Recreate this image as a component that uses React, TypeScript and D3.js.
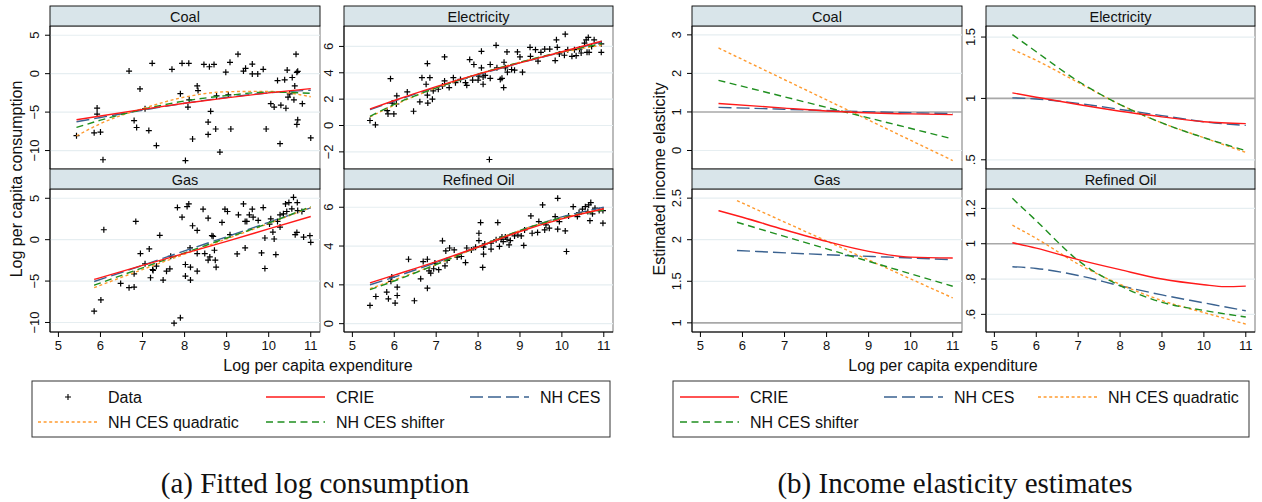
import * as d3 from "d3";

type Pt = [number, number];

// observed log per capita consumption vs log per capita expenditure
const coalObs: Pt[] = [
  [5.43, -8.06], [5.92, -4.48], [5.92, -5.26], [5.85, -7.7], [6.0, -7.6], [6.06, -11.2],
  [6.68, 0.34], [6.94, -1.98], [6.8, -6.1], [6.86, -7.0], [7.06, -4.57], [7.15, -7.4],
  [7.23, 1.34], [7.33, -9.35], [7.7, 0.56], [7.9, -2.6], [7.94, 1.34], [8.1, 1.34],
  [8.08, -4.35], [8.11, -3.4], [8.3, -1.6], [8.32, -2.2], [8.19, -8.5], [8.02, -11.3],
  [8.46, 1.2], [8.59, 0.9], [8.7, 1.2], [8.56, -6.3], [8.56, -7.9], [8.62, -4.9],
  [8.74, -7.2], [8.76, -2.9], [8.84, -10.2], [8.98, 0.2], [9.08, 1.47], [9.04, -2.76],
  [9.1, -7.2], [9.27, 2.54], [9.4, 0.34], [9.45, 0.69], [9.61, 1.25], [9.61, -0.04],
  [9.74, -0.04], [9.87, 0.56], [9.94, -7.2], [10.05, -3.9], [10.13, -4.35], [10.21, -0.9],
  [10.27, -9.1], [10.29, -4.1], [10.38, -0.8], [10.41, -4.5], [10.44, 0.47], [10.46, -3.06],
  [10.5, -2.63], [10.56, -0.5], [10.6, -3.4], [10.62, -1.6], [10.65, 2.54], [10.67, 0.17],
  [10.69, 0.3], [10.67, -6.6], [10.69, -6.0], [10.8, -3.9], [11.0, -8.36],
];

const electricityObs: Pt[] = [
  [5.42, 0.38], [5.55, 0.05], [5.91, 3.55], [5.83, 1.13], [5.85, 0.88], [5.99, 0.88],
  [5.95, 1.7], [6.05, 1.63], [6.06, 2.25], [6.31, 2.55], [6.46, 1.08], [6.61, 1.8],
  [6.66, 3.63], [6.76, 3.13], [6.79, 4.7], [6.79, 2.3], [6.8, 1.7], [6.85, 3.63],
  [6.91, 2.0], [6.93, 2.63], [7.05, 2.75], [7.15, 3.0], [7.2, 5.2], [7.2, 3.38],
  [7.31, 2.88], [7.41, 3.63], [7.46, 3.25], [7.58, 3.5], [7.7, 3.25], [7.73, 3.05],
  [7.8, 5.0], [7.9, 4.63], [7.87, 3.45], [8.0, 3.45], [8.02, 3.75], [8.08, 5.63],
  [8.08, 4.38], [8.12, 3.68], [8.12, 3.13], [8.17, 3.8], [8.29, 4.63], [8.29, 3.58],
  [8.27, -2.58], [8.43, 6.08], [8.45, 4.38], [8.53, 3.5], [8.57, 3.58], [8.61, 2.88],
  [8.62, 4.8], [8.65, 4.38], [8.69, 5.58], [8.7, 4.05], [8.8, 4.25], [8.87, 4.2],
  [8.94, 5.58], [9.0, 5.2], [9.06, 4.05], [9.24, 5.93], [9.25, 5.25], [9.37, 5.75],
  [9.43, 4.88], [9.5, 5.55], [9.59, 5.8], [9.71, 5.8], [9.84, 4.93], [9.87, 6.5],
  [9.89, 5.93], [9.94, 5.43], [10.08, 6.93], [10.06, 5.33], [10.14, 5.75], [10.24, 5.25],
  [10.34, 5.3], [10.42, 5.8], [10.46, 5.5], [10.54, 6.25], [10.58, 6.5], [10.63, 6.68],
  [10.65, 5.55], [10.71, 6.0], [10.77, 6.5], [10.94, 6.2], [10.94, 5.55], [10.6, 5.55],
  [10.3, 5.75],
];

const gasObs: Pt[] = [
  [5.85, -8.64], [6.01, -7.28], [6.08, 1.2], [6.48, -5.28], [6.68, -5.8], [6.8, -5.72],
  [6.8, -4.12], [6.84, 2.2], [6.95, -1.68], [7.06, -2.92], [7.16, -1.12], [7.19, -4.6],
  [7.24, -3.6], [7.25, -3.72], [7.33, -3.2], [7.41, 0.52], [7.49, -4.88], [7.57, -3.8],
  [7.65, -3.52], [7.67, -2.0], [7.75, -10.08], [7.83, 3.88], [7.9, -9.44], [7.94, 2.72],
  [8.02, -3.0], [8.02, -4.4], [8.06, 4.0], [8.1, 4.32], [8.13, -1.0], [8.14, -3.32],
  [8.14, -4.88], [8.19, 1.68], [8.3, 1.12], [8.3, -1.68], [8.3, -3.8], [8.44, 3.68],
  [8.48, -1.68], [8.56, 2.6], [8.56, -2.48], [8.6, -2.08], [8.65, 0.48], [8.68, 0.4],
  [8.71, -1.28], [8.73, -2.48], [8.75, -3.32], [8.89, 2.08], [8.96, 3.68], [9.02, 3.4],
  [9.08, 0.6], [9.25, -1.72], [9.28, 3.0], [9.4, 4.32], [9.44, 2.2], [9.44, -1.0],
  [9.48, 2.2], [9.54, 3.0], [9.61, 3.68], [9.63, 2.72], [9.75, 2.32], [9.83, -1.6],
  [9.87, 3.88], [9.91, 0.2], [9.91, -3.48], [10.02, 1.88], [10.05, 2.52], [10.1, 0.92],
  [10.13, 0.08], [10.17, -1.8], [10.21, 2.2], [10.27, 1.52], [10.27, 3.0], [10.35, 3.12],
  [10.4, 4.32], [10.43, 3.4], [10.48, 4.48], [10.55, 3.72], [10.59, 5.12], [10.63, 0.6],
  [10.67, 0.88], [10.68, 4.48], [10.69, 3.52], [10.79, 3.4], [10.83, 0.32], [10.98, 0.48],
  [11.0, -0.32],
];

const refinedOilObs: Pt[] = [
  [5.42, 0.94], [5.56, 1.4], [5.82, 1.63], [5.86, 1.28], [5.92, 2.18], [5.94, 2.4],
  [6.02, 1.06], [6.07, 1.45], [6.07, 1.88], [6.34, 3.32], [6.48, 1.18], [6.63, 2.31],
  [6.69, 3.2], [6.79, 3.32], [6.79, 1.83], [6.83, 2.72], [6.87, 2.6], [6.94, 2.83],
  [6.97, 3.12], [7.06, 2.78], [7.15, 4.27], [7.21, 2.98], [7.23, 3.75], [7.26, 3.26],
  [7.32, 3.9], [7.43, 3.8], [7.5, 3.43], [7.6, 3.46], [7.7, 3.15], [7.73, 3.9],
  [7.84, 3.8], [7.94, 3.94], [8.02, 4.28], [8.02, 4.66], [8.06, 5.21], [8.11, 2.9],
  [8.13, 3.58], [8.13, 3.94], [8.16, 4.11], [8.31, 4.15], [8.31, 3.84], [8.43, 4.32],
  [8.47, 5.21], [8.51, 3.98], [8.55, 4.35], [8.57, 4.46], [8.6, 4.23], [8.65, 4.46],
  [8.69, 4.35], [8.74, 4.06], [8.77, 4.28], [8.87, 4.52], [8.95, 4.57], [9.03, 4.52],
  [9.09, 4.03], [9.11, 4.83], [9.26, 5.55], [9.29, 4.66], [9.42, 4.7], [9.45, 5.26],
  [9.54, 6.12], [9.59, 4.83], [9.62, 5.09], [9.7, 4.92], [9.84, 5.52], [9.9, 6.46],
  [9.9, 4.87], [9.94, 5.26], [10.08, 4.78], [10.11, 3.72], [10.16, 5.55], [10.27, 6.03],
  [10.37, 5.52], [10.41, 5.73], [10.49, 5.9], [10.56, 6.03], [10.62, 5.78], [10.64, 6.12],
  [10.67, 5.31], [10.69, 6.24], [10.73, 5.66], [10.79, 5.95], [10.89, 5.83], [10.98, 5.83],
  [10.98, 5.18],
];

// fitted log consumption by model
const coalFit = {
  crie: [[5.43, -6.0], [6, -5.5], [7, -4.65], [8, -3.85], [9, -3.15], [10, -2.5], [11, -1.95]] as Pt[],
  nhces: [[5.43, -6.25], [6, -5.7], [7, -4.75], [8, -3.85], [9, -3.1], [10, -2.5], [11, -2.15]] as Pt[],
  quad: [[5.43, -8.1], [6, -6.5], [7, -4.55], [8, -3.05], [9, -2.35], [10, -2.3], [11, -3.0]] as Pt[],
  shift: [[5.43, -7.0], [6, -6.05], [7, -4.65], [8, -3.55], [9, -2.85], [10, -2.4], [11, -2.55]] as Pt[],
};
const electricityFit = {
  crie: [[5.42, 1.25], [6, 1.9], [7, 2.95], [8, 3.9], [9, 4.75], [10, 5.6], [10.95, 6.4]] as Pt[],
  nhces: [[5.42, 1.2], [6, 1.85], [7, 2.9], [8, 3.85], [9, 4.75], [10, 5.55], [10.95, 6.35]] as Pt[],
  quad: [[5.42, 0.65], [6, 1.55], [7, 2.85], [8, 3.9], [9, 4.8], [10, 5.55], [10.95, 6.1]] as Pt[],
  shift: [[5.42, 0.7], [6, 1.6], [7, 2.85], [8, 3.9], [9, 4.8], [10, 5.6], [10.95, 6.2]] as Pt[],
};
const gasFit = {
  crie: [[5.85, -4.8], [7, -3.1], [8, -1.65], [9, -0.2], [10, 1.3], [11, 2.8]] as Pt[],
  nhces: [[5.85, -5.05], [7, -3.1], [8, -1.35], [9, 0.35], [10, 2.1], [11, 3.85]] as Pt[],
  quad: [[5.85, -5.8], [7, -3.6], [8, -1.75], [9, 0.1], [10, 1.95], [11, 3.9]] as Pt[],
  shift: [[5.85, -5.5], [7, -3.4], [8, -1.6], [9, 0.2], [10, 2.0], [11, 4.0]] as Pt[],
};
const refinedOilFit = {
  crie: [[5.42, 2.1], [6, 2.5], [7, 3.2], [8, 3.95], [9, 4.75], [10, 5.4], [11, 5.92]] as Pt[],
  nhces: [[5.42, 2.0], [6, 2.4], [7, 3.15], [8, 3.95], [9, 4.8], [10, 5.5], [11, 6.0]] as Pt[],
  quad: [[5.42, 1.8], [6, 2.25], [7, 3.05], [8, 3.95], [9, 4.8], [10, 5.45], [11, 5.9]] as Pt[],
  shift: [[5.42, 1.75], [6, 2.2], [7, 3.05], [8, 3.95], [9, 4.8], [10, 5.45], [11, 5.85]] as Pt[],
};

// estimated income elasticities by model
const coalElast = {
  crie: [[5.43, 1.22], [7, 1.1], [8.5, 1.0], [10, 0.95], [11, 0.93]] as Pt[],
  nhces: [[5.43, 1.12], [7, 1.07], [8.5, 1.02], [10, 0.98], [11, 0.96]] as Pt[],
  quad: [[5.43, 2.66], [11, -0.26]] as Pt[],
  shift: [[5.43, 1.82], [11, 0.3]] as Pt[],
};
const electricityElast = {
  crie: [[5.43, 1.045], [6, 1.01], [7, 0.95], [8, 0.895], [9, 0.85], [10, 0.81], [11, 0.795]] as Pt[],
  nhces: [[5.43, 1.005], [6, 0.995], [7, 0.96], [8, 0.91], [9, 0.86], [10, 0.81], [11, 0.78]] as Pt[],
  quad: [[5.43, 1.4], [6, 1.31], [7, 1.13], [8, 0.95], [9, 0.8], [10, 0.68], [11, 0.56]] as Pt[],
  shift: [[5.43, 1.52], [6, 1.38], [7, 1.14], [8, 0.95], [9, 0.8], [10, 0.68], [11, 0.575]] as Pt[],
};
const gasElast = {
  crie: [[5.43, 2.35], [6, 2.27], [7, 2.12], [8, 1.98], [9, 1.86], [10, 1.79], [11, 1.78]] as Pt[],
  nhces: [[5.87, 1.87], [8, 1.82], [9.5, 1.79], [11, 1.76]] as Pt[],
  quad: [[5.87, 2.47], [11, 1.3]] as Pt[],
  shift: [[5.87, 2.21], [11, 1.44]] as Pt[],
};
const refinedOilElast = {
  crie: [[5.43, 1.006], [6, 0.975], [7, 0.91], [8, 0.853], [9, 0.8], [10, 0.768], [10.5, 0.757], [11, 0.76]] as Pt[],
  nhces: [[5.43, 0.87], [6, 0.86], [7, 0.82], [8, 0.762], [9, 0.71], [10, 0.665], [11, 0.62]] as Pt[],
  quad: [[5.43, 1.105], [6, 1.03], [7, 0.885], [8, 0.77], [9, 0.678], [10, 0.61], [11, 0.545]] as Pt[],
  shift: [[5.43, 1.257], [6, 1.13], [7, 0.905], [8, 0.762], [9, 0.668], [10, 0.622], [11, 0.585]] as Pt[],
};

const xTicks = [5, 6, 7, 8, 9, 10, 11];
const coalTicks = [5, 0, -5, -10];
const electricityTicks = [6, 4, 2, 0, -2];
const gasTicks = [5, 0, -5, -10];
const refinedOilTicks = [6, 4, 2, 0];
const coalElastTicks = [3, 2, 1, 0];
const electricityElastTicks = [1.5, 1, 0.5];
const gasElastTicks = [2.5, 2, 1.5, 1];
const refinedOilElastTicks = [1.2, 1, 0.8, 0.6];

type ModelKey = "crie" | "nhces" | "quad" | "shift";
type Fit = Record<ModelKey, Pt[]>;

const MODELS: { key: ModelKey; label: string; color: string; dash: string; width: number }[] = [
  { key: "crie", label: "CRIE", color: "#ff1a1a", dash: "", width: 1.4 },
  { key: "nhces", label: "NH CES", color: "#3a6290", dash: "13 5", width: 1.4 },
  { key: "quad", label: "NH CES quadratic", color: "#ff9a2e", dash: "3 2.6", width: 1.4 },
  { key: "shift", label: "NH CES shifter", color: "#1f8f1f", dash: "7 4.5", width: 1.4 },
];
const DRAW_ORDER: ModelKey[] = ["nhces", "quad", "shift", "crie"];

const FONT = "'Liberation Sans', Arial, Helvetica, sans-serif";
const SERIF = "'Liberation Serif', 'Times New Roman', serif";
const X_DOMAIN: [number, number] = [4.8, 11.22];
const ROWS = [
  { strip: 6, top: 26, bottom: 169 },
  { strip: 169, top: 189, bottom: 332 },
];

const fmt = (v: number) => {
  const s = String(Math.abs(v)).replace(/^0\./, ".");
  return (v < 0 ? "\u2212" : "") + s;
};

interface PanelProps {
  x0: number;
  x1: number;
  row: number;
  title: string;
  yDomain: [number, number];
  yTicks: number[];
  fit: Fit;
  obs?: Pt[];
  refLine?: number;
}

const Panel = ({ x0, x1, row, title, yDomain, yTicks, fit, obs, refLine }: PanelProps) => {
  const r = ROWS[row];
  const x = d3.scaleLinear().domain(X_DOMAIN).range([x0, x1]);
  const y = d3.scaleLinear().domain(yDomain).range([r.bottom, r.top]);
  const line = d3
    .line<Pt>()
    .x((d) => x(d[0]))
    .y((d) => y(d[1]))
    .curve(d3.curveMonotoneX);
  const showX = row === 1;

  return (
    <g>
      <rect x={x0} y={r.top} width={x1 - x0} height={r.bottom - r.top} fill="#fff" stroke="#555" strokeWidth={0.8} />
      {yTicks
        .filter((t) => t !== refLine)
        .map((t) => (
          <line key={t} x1={x0} x2={x1} y1={y(t)} y2={y(t)} stroke="#e6eef1" strokeWidth={1.2} />
        ))}
      {refLine !== undefined && (
        <line x1={x0} x2={x1} y1={y(refLine)} y2={y(refLine)} stroke="#a8a8a8" strokeWidth={1.6} />
      )}
      {obs &&
        obs.map((d, i) => (
          <path
            key={i}
            d={`M${x(d[0]) - 3},${y(d[1])}h6M${x(d[0])},${y(d[1]) - 3}v6`}
            stroke="#000"
            strokeWidth={1.2}
          />
        ))}
      {DRAW_ORDER.map((k) => {
        const m = MODELS.find((mm) => mm.key === k)!;
        return (
          <path
            key={k}
            d={line(fit[k]) ?? ""}
            fill="none"
            stroke={m.color}
            strokeWidth={m.width}
            strokeDasharray={m.dash || undefined}
          />
        );
      })}
      <rect x={x0} y={r.strip} width={x1 - x0} height={r.top - r.strip} fill="#d9e5ea" stroke="#000" strokeWidth={0.9} />
      <text
        x={(x0 + x1) / 2}
        y={(r.strip + r.top) / 2 + 1}
        textAnchor="middle"
        dominantBaseline="central"
        fontSize={14.5}
        fontFamily={FONT}
        fill="#111"
      >
        {title}
      </text>
      <line x1={x0} x2={x0} y1={r.top} y2={r.bottom} stroke="#000" strokeWidth={1.1} />
      {yTicks.map((t) => (
        <g key={t}>
          <line x1={x0 - 5} x2={x0} y1={y(t)} y2={y(t)} stroke="#000" strokeWidth={1} />
          <text
            transform={`translate(${x0 - 11},${y(t)}) rotate(-90)`}
            textAnchor="middle"
            fontSize={13}
            fontFamily={FONT}
            fill="#111"
          >
            {fmt(t)}
          </text>
        </g>
      ))}
      {showX && (
        <g>
          <line x1={x0} x2={x1} y1={r.bottom} y2={r.bottom} stroke="#000" strokeWidth={1.1} />
          {xTicks.map((t) => (
            <g key={t}>
              <line x1={x(t)} x2={x(t)} y1={r.bottom} y2={r.bottom + 5} stroke="#000" strokeWidth={1} />
              <text x={x(t)} y={r.bottom + 18} textAnchor="middle" fontSize={13} fontFamily={FONT} fill="#111">
                {t}
              </text>
            </g>
          ))}
        </g>
      )}
    </g>
  );
};

interface LegendProps {
  box: [number, number, number, number];
  cols: number[];
  items: (ModelKey | "data")[];
}

const Legend = ({ box, cols, items }: LegendProps) => {
  const [bx0, by0, bx1, by1] = box;
  const rowsY = [by0 + 16, by0 + 41];
  return (
    <g>
      <rect x={bx0} y={by0} width={bx1 - bx0} height={by1 - by0} fill="#fff" stroke="#333" strokeWidth={1} />
      {items.map((it, i) => {
        const cx = cols[i % 3];
        const cy = rowsY[Math.floor(i / 3)];
        const label = it === "data" ? "Data" : MODELS.find((m) => m.key === it)!.label;
        const m = MODELS.find((mm) => mm.key === it);
        return (
          <g key={it}>
            {it === "data" ? (
              <path d={`M${cx + 27},${cy}h6M${cx + 30},${cy - 3}v6`} stroke="#000" strokeWidth={1.1} />
            ) : (
              <line
                x1={cx}
                x2={cx + 59}
                y1={cy}
                y2={cy}
                stroke={m!.color}
                strokeWidth={1.4}
                strokeDasharray={m!.dash || undefined}
              />
            )}
            <text x={cx + 70} y={cy} dominantBaseline="central" fontSize={16} fontFamily={FONT} fill="#111">
              {label}
            </text>
          </g>
        );
      })}
    </g>
  );
};

export default function App() {
  const L = [
    [50, 320],
    [344, 613],
  ];
  const R = [
    [692, 962],
    [986, 1255],
  ];
  return (
    <svg
      width={1262}
      height={502}
      viewBox="0 0 1262 502"
      style={{ position: "absolute", left: 0, top: 0, background: "#fff" }}
    >
      <rect width={1262} height={502} fill="#fff" />
      {/* (a) fitted log consumption */}
      <Panel x0={L[0][0]} x1={L[0][1]} row={0} title="Coal" yDomain={[-12.4, 6.2]} yTicks={coalTicks} fit={coalFit} obs={coalObs} />
      <Panel x0={L[1][0]} x1={L[1][1]} row={0} title="Electricity" yDomain={[-3.3, 7.55]} yTicks={electricityTicks} fit={electricityFit} obs={electricityObs} />
      <Panel x0={L[0][0]} x1={L[0][1]} row={1} title="Gas" yDomain={[-11.15, 6.12]} yTicks={gasTicks} fit={gasFit} obs={gasObs} />
      <Panel x0={L[1][0]} x1={L[1][1]} row={1} title="Refined Oil" yDomain={[-0.43, 6.94]} yTicks={refinedOilTicks} fit={refinedOilFit} obs={refinedOilObs} />
      <text transform="translate(22,179) rotate(-90)" textAnchor="middle" fontSize={16} fontFamily={FONT} fill="#111">
        Log per capita consumption
      </text>
      <text x={318} y={371} textAnchor="middle" fontSize={16} fontFamily={FONT} fill="#111">
        Log per capita expenditure
      </text>
      <Legend box={[32, 381, 610, 437]} cols={[38, 266, 470]} items={["data", "crie", "nhces", "quad", "shift"]} />
      <text x={315} y={493} textAnchor="middle" fontSize={29} fontFamily={SERIF} fill="#111">
        (a) Fitted log consumption
      </text>

      {/* (b) income elasticity estimates */}
      <Panel x0={R[0][0]} x1={R[0][1]} row={0} title="Coal" yDomain={[-0.48, 3.23]} yTicks={coalElastTicks} fit={coalElast} refLine={1} />
      <Panel x0={R[1][0]} x1={R[1][1]} row={0} title="Electricity" yDomain={[0.425, 1.59]} yTicks={electricityElastTicks} fit={electricityElast} refLine={1} />
      <Panel x0={R[0][0]} x1={R[0][1]} row={1} title="Gas" yDomain={[0.89, 2.61]} yTicks={gasElastTicks} fit={gasElast} refLine={1} />
      <Panel x0={R[1][0]} x1={R[1][1]} row={1} title="Refined Oil" yDomain={[0.5, 1.31]} yTicks={refinedOilElastTicks} fit={refinedOilElast} refLine={1} />
      <text transform="translate(665,179) rotate(-90)" textAnchor="middle" fontSize={16} fontFamily={FONT} fill="#111">
        Estimated income elasticity
      </text>
      <text x={943} y={371} textAnchor="middle" fontSize={16} fontFamily={FONT} fill="#111">
        Log per capita expenditure
      </text>
      <Legend box={[673, 381, 1249, 437]} cols={[680, 884, 1038]} items={["crie", "nhces", "quad", "shift"]} />
      <text x={955} y={493} textAnchor="middle" fontSize={29} fontFamily={SERIF} fill="#111">
        (b) Income elasticity estimates
      </text>
    </svg>
  );
}
